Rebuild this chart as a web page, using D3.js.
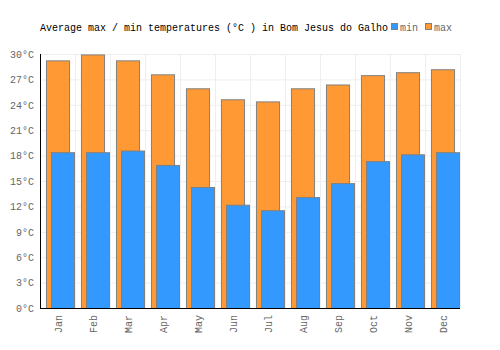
<!DOCTYPE html>
<html>
<head>
<meta charset="utf-8">
<script src="https://cdn.jsdelivr.net/npm/d3@7"></script>
<style>
  body { margin: 0; background: #fff; }
  text { font-family: "Liberation Mono", "DejaVu Sans Mono", monospace; }
</style>
</head>
<body>
<div class="chart"></div>
<script>
// Data.
const months = ["Jan", "Feb", "Mar", "Apr", "May", "Jun", "Jul", "Aug", "Sep", "Oct", "Nov", "Dec"];
const maxTemps = [29.25, 29.95, 29.25, 27.6, 25.95, 24.65, 24.4, 25.95, 26.4, 27.5, 27.85, 28.2];
const minTemps = [18.4, 18.4, 18.6, 16.9, 14.3, 12.2, 11.55, 13.1, 14.75, 17.35, 18.15, 18.4];
const yTicks = [0, 3, 6, 9, 12, 15, 18, 21, 24, 27, 30];

const width = 500;
const height = 350;
const margin = { top: 54, right: 40, bottom: 42, left: 40 };
const font = "Liberation Mono, DejaVu Sans Mono, monospace";

const svg = d3.select(".chart")
  .append("svg")
  .attr("width", width)
  .attr("height", height);

// Band for each month, bars drawn at fixed offsets inside it.
const x = d3.scaleBand()
  .domain(months)
  .range([margin.left, width - margin.right]);

const y = d3.scaleLinear()
  .domain([0, 30])
  .range([height - margin.bottom, margin.top]);

const bw = x.bandwidth();

// Grid.
svg.append("g")
  .selectAll("line")
  .data(yTicks.slice(1))
  .join("line")
  .attr("x1", margin.left)
  .attr("x2", width - margin.right)
  .attr("y1", d => y(d) + 0.5)
  .attr("y2", d => y(d) + 0.5)
  .attr("stroke", "#eeeeee");

svg.append("g")
  .selectAll("line")
  .data(months.slice(1).map(m => x(m)).concat([width - margin.right]))
  .join("line")
  .attr("x1", d => d + 0.5)
  .attr("x2", d => d + 0.5)
  .attr("y1", margin.top)
  .attr("y2", height - margin.bottom)
  .attr("stroke", "#eeeeee");

// Max bars first, min bars on top.
svg.append("g")
  .selectAll("rect")
  .data(months)
  .join("rect")
  .attr("x", d => x(d) + bw * 0.17 + 0.5)
  .attr("width", bw * 0.66)
  .attr("y", (d, i) => y(maxTemps[i]) + 0.5)
  .attr("height", (d, i) => y(0) - y(maxTemps[i]))
  .attr("fill", "#ff9933")
  .attr("stroke", "#808080")
  .attr("stroke-width", 1);

svg.append("g")
  .selectAll("rect")
  .data(months)
  .join("rect")
  .attr("x", d => x(d) + bw * 0.315 + 0.5)
  .attr("width", bw * 0.685 - 1)
  .attr("y", (d, i) => y(minTemps[i]) + 0.5)
  .attr("height", (d, i) => y(0) - y(minTemps[i]))
  .attr("fill", "#3399ff")
  .attr("stroke", "#808080")
  .attr("stroke-width", 1);

// Axes.
const yAxis = svg.append("g")
  .attr("transform", `translate(${margin.left},0)`)
  .call(d3.axisLeft(y).tickValues(yTicks).tickSize(0).tickPadding(6).tickFormat(d => d + "°C"));
yAxis.select(".domain").remove();
yAxis.selectAll("text")
  .attr("fill", "#666666")
  .style("font-size", "10px")
  .style("font-family", font);

const xAxis = svg.append("g")
  .attr("transform", `translate(0,${height - margin.bottom})`)
  .call(d3.axisBottom(x).tickSize(0).tickPadding(0));
xAxis.select(".domain").remove();
xAxis.selectAll("text")
  .attr("fill", "#666666")
  .attr("transform", "rotate(-90)")
  .attr("x", -7)
  .attr("y", 1)
  .attr("dy", "0.35em")
  .style("text-anchor", "end")
  .style("font-size", "10px")
  .style("font-family", font);

// Axis lines.
svg.append("line")
  .attr("x1", margin.left + 0.5)
  .attr("x2", margin.left + 0.5)
  .attr("y1", margin.top)
  .attr("y2", height - margin.bottom + 1)
  .attr("stroke", "#000")
  .attr("stroke-width", 1);
svg.append("line")
  .attr("x1", margin.left)
  .attr("x2", width - margin.right)
  .attr("y1", height - margin.bottom + 0.5)
  .attr("y2", height - margin.bottom + 0.5)
  .attr("stroke", "#000")
  .attr("stroke-width", 1);

// Title.
svg.append("text")
  .attr("x", 40)
  .attr("y", 31)
  .attr("font-size", "10px")
  .attr("fill", "#000")
  .text("Average max / min temperatures (°C ) in Bom Jesus do Galho");

// Legend.
const legend = [
  { label: "min", color: "#3399ff", x: 391 },
  { label: "max", color: "#ff9933", x: 425 }
];
const lg = svg.append("g");
lg.selectAll("rect")
  .data(legend)
  .join("rect")
  .attr("x", d => d.x + 0.5)
  .attr("y", 23.5)
  .attr("width", 6)
  .attr("height", 6)
  .attr("fill", d => d.color)
  .attr("stroke", "#808080");
lg.selectAll("text")
  .data(legend)
  .join("text")
  .attr("x", d => d.x + 9)
  .attr("y", 31)
  .attr("font-size", "10px")
  .attr("fill", "#666666")
  .text(d => d.label);
</script>
</body>
</html>
